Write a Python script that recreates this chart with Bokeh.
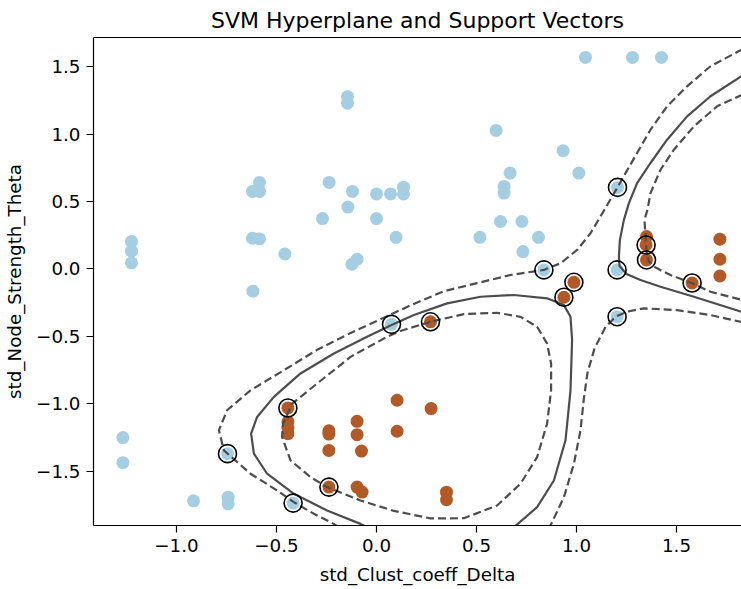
from bokeh.plotting import figure
from bokeh.models import Range1d, FixedTicker, LinearAxis, CustomJSTickFormatter
from bokeh.embed import file_html
from bokeh.resources import INLINE

# --- samples: class 0 (light blue) ---
blue_x = [1.045, 1.28, 1.425, -0.145, -0.145, -0.585, -0.62, -0.585, -0.237, -0.12,
          -0.143, -0.27, 0.0, 0.07, 0.135, 0.135, 0.0, 0.098, -0.097, -0.123,
          -0.458, -0.62, -0.585, -1.225, -1.225, -1.225, -0.618, 0.598, 0.933, 0.668,
          1.012, 0.638, 0.638, 0.62, 0.727, 0.517, 0.81, 0.732, -1.268, -1.268,
          -0.915, -0.742, -0.742,
          1.205, 0.837, 1.203, 0.075, -0.745, -0.417, 1.203]
blue_y = [1.569, 1.569, 1.569, 1.278, 1.23, 0.642, 0.575, 0.575, 0.642, 0.575,
          0.459, 0.374, 0.557, 0.557, 0.607, 0.557, 0.374, 0.235, 0.072, 0.035,
          0.111, 0.228, 0.223, 0.203, 0.132, 0.045, -0.165, 1.028, 0.877, 0.711,
          0.711, 0.612, 0.563, 0.352, 0.352, 0.235, 0.235, 0.129, -1.251, -1.437,
          -1.72, -1.693, -1.742,
          0.605, -0.007, -0.007, -0.411, -1.37, -1.737, -0.354]

# --- samples: class 1 (brown) ---
orange_x = [0.987, 0.937, 1.35, 1.348, 1.35, 1.717, 1.717, 1.717, 1.578, -0.443,
            -0.443, -0.443, -0.443, -0.238, -0.238, -0.238, -0.097, -0.097, -0.075, 0.103,
            0.103, -0.238, -0.097, -0.072, 0.27, 0.273, 0.35, 0.35]
orange_y = [-0.099, -0.21, 0.24, 0.178, 0.067, 0.221, 0.072, -0.052, -0.104, -1.031,
            -1.135, -1.18, -1.222, -1.2, -1.225, -1.346, -1.13, -1.229, -1.351, -0.974,
            -1.204, -1.618, -1.618, -1.655, -0.392, -1.036, -1.656, -1.712]

# --- support vectors ---
sv_x = [1.205, 0.837, 1.203, 0.075, -0.745, -0.417, 1.203,
        0.987, 0.937, 1.348, 1.35, 1.578, -0.443, -0.238, 0.27]
sv_y = [0.605, -0.007, -0.007, -0.411, -1.37, -1.737, -0.354,
        -0.099, -0.21, 0.178, 0.067, -0.104, -1.031, -1.618, -0.392]

# --- decision boundary (level 0) ---
boundary_lower_x = [-0.013, -0.08, -0.247, -0.413, -0.547, -0.613, -0.627, -0.597, -0.513,
                    -0.38, -0.213, -0.047, 0.07, 0.187, 0.353, 0.52, 0.687, 0.853,
                    0.937, 0.97, 0.978, 0.97, 0.945, 0.887, 0.803, 0.687]
boundary_lower_y = [-1.94, -1.891, -1.792, -1.668, -1.519, -1.37, -1.222, -1.098, -0.949,
                    -0.775, -0.627, -0.503, -0.42, -0.342, -0.255, -0.206, -0.193, -0.218,
                    -0.268, -0.355, -0.528, -0.9, -1.271, -1.569, -1.767, -1.916]
boundary_upper_x = [1.825, 1.67, 1.553, 1.453, 1.37, 1.303, 1.262, 1.237, 1.217, 1.212,
                    1.215, 1.25, 1.32, 1.42, 1.587, 1.825]
boundary_upper_y = [1.43, 1.281, 1.132, 0.959, 0.786, 0.637, 0.488, 0.364, 0.216, 0.091,
                    0.022, -0.037, -0.082, -0.132, -0.206, -0.317]

# --- margins (levels -1 and +1) ---
margin_a_x = [1.83, 1.67, 1.553, 1.453, 1.37, 1.303, 1.245, 1.203, 1.14, 1.07, 1.003,
              0.92, 0.837, 0.67, 0.503, 0.337, 0.17, 0.053, -0.13, -0.297, -0.463,
              -0.63, -0.747, -0.788, -0.763, -0.63, -0.497, -0.413, -0.313, -0.213, -0.18]
margin_a_y = [1.63, 1.504, 1.355, 1.207, 1.033, 0.86, 0.711, 0.6, 0.44, 0.265, 0.141,
              0.042, -0.007, -0.045, -0.105, -0.165, -0.27, -0.35, -0.475, -0.6, -0.751,
              -0.9, -1.048, -1.197, -1.346, -1.519, -1.643, -1.73, -1.816, -1.891, -1.93]
margin_b_x = [1.83, 1.67, 1.503, 1.337, 1.253, 1.195, 1.145, 1.09, 1.055, 1.037, 1.02,
              0.987, 0.937, 0.87, 0.86]
margin_b_y = [-0.395, -0.342, -0.305, -0.292, -0.317, -0.354, -0.43, -0.59, -0.77, -0.96,
              -1.197, -1.445, -1.693, -1.903, -1.95]
margin_c_x = [1.83, 1.703, 1.587, 1.487, 1.42, 1.37, 1.355, 1.34, 1.345, 1.35, 1.36,
              1.387, 1.47, 1.578, 1.67, 1.83]
margin_c_y = [1.294, 1.207, 1.058, 0.885, 0.736, 0.563, 0.44, 0.364, 0.24, 0.13, 0.06,
              0.017, -0.045, -0.106, -0.169, -0.23]
margin_d_x = [0.27, 0.12, 0.053, -0.13, -0.297, -0.422, -0.467, -0.472, -0.43, -0.33,
              -0.247, -0.08, 0.087, 0.27, 0.437, 0.603, 0.72, 0.803, 0.853, 0.873,
              0.873, 0.853, 0.803, 0.72, 0.603, 0.437, 0.27]
margin_d_y = [-0.392, -0.46, -0.503, -0.652, -0.85, -0.999, -1.147, -1.247, -1.42, -1.544,
              -1.618, -1.717, -1.795, -1.85, -1.849, -1.755, -1.593, -1.396, -1.147, -0.9,
              -0.701, -0.553, -0.429, -0.355, -0.325, -0.335, -0.392]

x_ticks = [-1.0, -0.5, 0.0, 0.5, 1.0, 1.5]
y_ticks = [-1.5, -1.0, -0.5, 0.0, 0.5, 1.0, 1.5]

FONT = "DejaVu Sans"

p = figure(width=741, height=589, output_backend="svg", toolbar_location=None,
           x_range=Range1d(-1.415, 1.825), y_range=Range1d(-1.903, 1.717),
           min_border_left=93, min_border_right=0, min_border_bottom=64, min_border_top=0,
           background_fill_color="white", border_fill_color="white")
p.outline_line_color = None
p.xgrid.visible = False
p.ygrid.visible = False

p.title.text = "SVM Hyperplane and Support Vectors"
p.title.align = "center"
p.title.text_font = FONT
p.title.text_font_size = "22px"
p.title.text_font_style = "normal"
p.title.text_color = "black"
p.title.standoff = 10

fmt = CustomJSTickFormatter(code="return tick.toFixed(1).replace('-', '\u2212');")

for ax, ticks, label in ((p.xaxis[0], x_ticks, "std_Clust_coeff_Delta"),
                         (p.yaxis[0], y_ticks, "std_Node_Strength_Theta")):
    ax.ticker = FixedTicker(ticks=ticks)
    ax.formatter = fmt
    ax.axis_label = label
    ax.axis_label_text_font = FONT
    ax.axis_label_text_font_size = "18.3px"
    ax.axis_label_text_font_style = "normal"
    ax.axis_label_text_color = "black"
    ax.major_label_text_font = FONT
    ax.major_label_text_font_size = "18.3px"
    ax.major_label_text_color = "black"
    ax.axis_line_color = "black"
    ax.axis_line_width = 1.2
    ax.major_tick_line_color = "black"
    ax.major_tick_line_width = 1.2
    ax.major_tick_out = 7
    ax.major_tick_in = 0
    ax.minor_tick_line_color = None
    ax.major_label_standoff = 6
p.xaxis.axis_label_standoff = 9
p.yaxis.axis_label_standoff = 8

# top spine
top = LinearAxis(ticker=FixedTicker(ticks=[]), axis_line_color="black", axis_line_width=1.2,
                 major_tick_line_color=None, minor_tick_line_color=None,
                 major_label_text_font_size="0px")
p.add_layout(top, "above")

# samples
p.scatter(blue_x, blue_y, size=13, fill_color="#a6cee3", line_color="#a6cee3", line_width=0)
p.scatter(orange_x, orange_y, size=13, fill_color="#b15928", line_color="#b15928", line_width=0)

# decision function levels
line_col = "#4d4d4d"
p.multi_line([boundary_lower_x, boundary_upper_x], [boundary_lower_y, boundary_upper_y],
             line_color=line_col, line_width=2.2)
p.multi_line([margin_a_x, margin_b_x, margin_c_x, margin_d_x],
             [margin_a_y, margin_b_y, margin_c_y, margin_d_y],
             line_color=line_col, line_width=2.2, line_dash="8 4")

# support vectors
p.scatter(sv_x, sv_y, size=18, fill_color=None, line_color="black", line_width=1.6)

open("out.html", "w").write(file_html(p, INLINE))
